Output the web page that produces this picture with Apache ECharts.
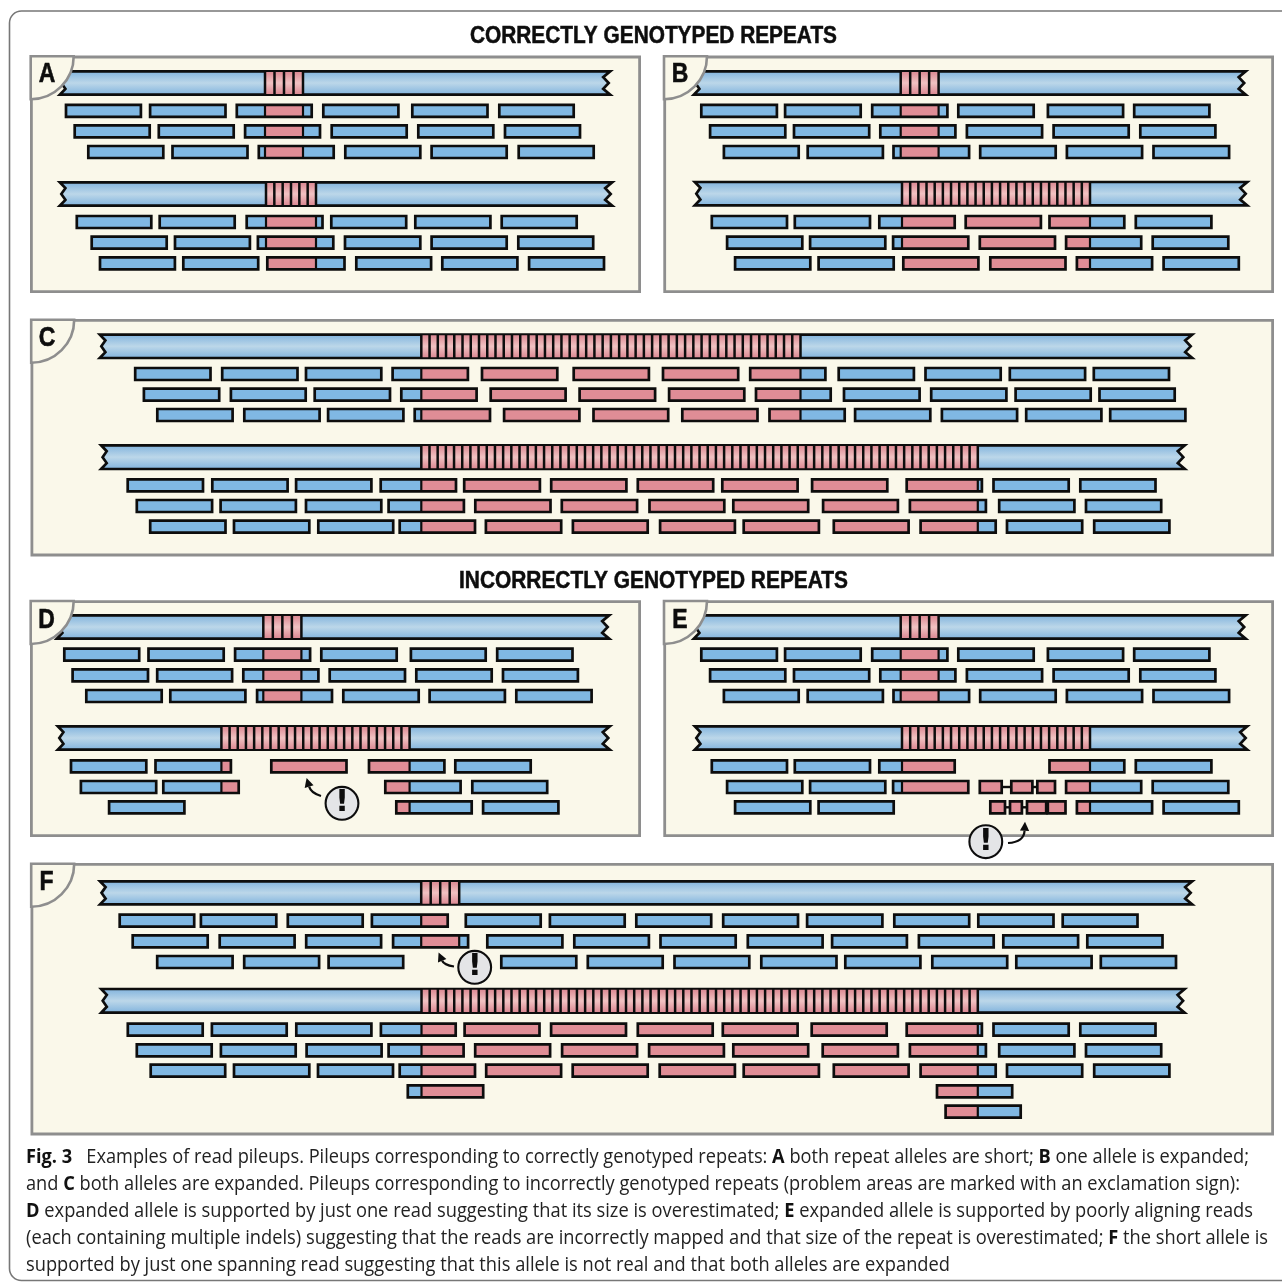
<!DOCTYPE html>
<html><head><meta charset="utf-8">
<style>html,body{margin:0;padding:0;background:#fff;overflow:hidden}#c{width:1282px;height:1282px}</style>
<script src="https://cdn.jsdelivr.net/npm/echarts@6/dist/echarts.min.js"></script>
</head><body><div id="c"></div>
<script>
// ---- panels: x0, y0, x1, y1
const panelBoxes=[[30,55.6,641,293],[663.3,55.6,1274,293],[30.5,319,1274,556.4],[30,600.3,641,837],[663.3,600.3,1274,837],[30.5,863,1274,1135.4]];
const panelLabels=['A','B','C','D','E','F'];
const labelCentres=[[47,74],[680,74],[47,338],[46.5,620],[680,620],[46.5,882]];
const sectionTitles=['CORRECTLY GENOTYPED REPEATS','INCORRECTLY GENOTYPED REPEATS'];
const titleSpans=[[470,837,37],[459,848,582]];

// ---- pileups: reference [x0,x1,y0,y1], repeat [x0,x1,units], row tops, reads per row [x0,x1,x0,x1,...]
const A1_ref=[59,611,70,96], A1_repeat=[265,303,4], A1_y=[103.5,124,144.7];
const A1_reads=[[64.7,142.2,148.8,226.8,235.5,313,322,399.7,411,488.8,498,575],
[73.4,151,157.5,235,243.8,321.3,330.4,408,417,494.6,503.7,581.3],
[87,164.6,171.2,248.8,257.5,335,344,421.6,430.3,508,517.4,595]];
const A2_ref=[59,613,181,207], A2_repeat=[266,316,6], A2_y=[214.7,235.3,256];
const A2_reads=[[75.5,152.6,158.4,236,245.4,323.8,330,407.5,414,491.7,500.4,578],
[90.4,168,173.7,251.2,256.6,334.6,343.7,421.6,430.3,508,517,594.5],
[98.7,176.2,182,259.5,266,345.8,355,432.4,441,518.7,527.8,605.3]];

const B1_ref=[693,1246.5,70,96], B1_repeat=[900.7,938.6,4], B1_y=[103.5,124,144.7];
const B1_reads=[[700,778.2,783.8,862,870.9,948.7,957,1035,1046.6,1124.4,1132.9,1210.7],
[708.8,786.6,792.7,870.5,879,956.7,965.6,1043.4,1052.3,1130,1139,1216.7],
[722.6,800,806.4,884.2,892.2,970.4,978.9,1057,1065.6,1143.4,1152.2,1230.4]];
const B2_ref=[694,1248,180.7,206.7], B2_repeat=[902,1090,23], B2_y=[214.7,235.3,256];
const B2_reads=[[710.5,788.3,793.5,871.3,878,956,964.4,1042.2,1048.2,1125.6,1134.5,1212.7],
[725.8,803.6,808.8,886.6,891.8,969.6,978.5,1056.3,1064.8,1142.5,1151.4,1229.6],
[733.8,811.6,817.3,895,902,979.7,989,1066.8,1075.6,1153.4,1162.3,1240.1]];

const C1_ref=[99,1193,333.3,359.3], C1_repeat=[421.3,800.5,46], C1_y=[366.7,387.3,407.7];
const C1_reads=[[133.9,211.8,220.9,298.8,304.7,382.6,391.3,469.2,480.7,558.6,572.4,650.2,661.7,739.5,748.9,826.7,837.4,915.2,924.2,1002,1008.5,1086.4,1092.5,1170.3],
[142.6,220.5,229.6,307,313.4,391.3,400,477.9,489.4,566.9,578.3,656.4,667.8,745.6,754.7,832,842.7,920.9,929.9,1007.7,1014.3,1092,1098.2,1176],
[156,233.9,243,320.9,326.8,404.7,413.4,491.3,502.8,580.7,592.2,669.5,681,758.8,768.2,846,853.8,931.6,940.6,1018.4,1024.9,1102.7,1108.9,1186.7]];
const C2_ref=[100.3,1185.6,444,470.3], C2_repeat=[421.3,977.8,68], C2_y=[478,498.7,519.3];
const C2_reads=[[126.4,204.3,211,288.9,294.8,372.7,379.4,457.3,462.9,541.2,549.9,627.7,636.5,714.5,721,798.9,810.8,888.6,905.4,983.2,992.2,1070,1079,1156.8],
[135.5,213.4,219.3,297.2,304.7,382.6,387.3,465.2,474,551.8,560.5,638.4,648.2,725.6,732,809.5,821.8,899.2,908.6,987.2,997.9,1075.7,1084.7,1162.5],
[148.9,226.8,232.7,310.6,317,394.5,398.4,476.3,484.6,562.5,571.6,649,658.8,736.2,742.4,820.2,832.5,909.9,919.3,997,1005.7,1083.5,1092.9,1170.7]];

const D1_ref=[56,610,614,640], D1_repeat=[263.3,301.4,4], D1_y=[647.3,668,688.7];
const D1_reads=[[63,140.5,147.2,225,233.8,311.4,320,398,409.6,487,495.9,573.8],
[71.3,149.3,155.9,233.4,242,319.7,328.4,406.3,415,493,501.7,579.2],
[85,163,169,246.7,255.8,333.3,342,420,428.3,506.2,515,592.9]];
const D2_ref=[57,610.6,725,751], D2_repeat=[221.4,409.6,23], D2_y=[759,779.7,800];
const D2_reads=[[69.7,147.6,154.2,232.2,270,347.8,367.7,445.7,454,532],
[79.6,157.5,162,240,384,461.9,471,548.5],
[107.8,185.7,395,473,481.8,559.7]];

const E1_ref=[693,1246.5,614,640], E1_repeat=[900.7,938.6,4], E1_y=[647.3,668,688.7];
const E1_reads=[[700,778.2,783.8,862,870.9,948.7,957,1035,1046.6,1124.4,1132.9,1210.7],
[708.8,786.6,792.7,870.5,879,956.7,965.6,1043.4,1052.3,1130,1139,1216.7],
[722.6,800,806.4,884.2,892.2,970.4,978.9,1057,1065.6,1143.4,1152.2,1230.4]];
const E2_ref=[694,1248,725,751], E2_repeat=[902,1090,23], E2_y=[759,779.7,800];
const E2_reads=[[710.5,788.3,793.5,871.3,878,956,1048.2,1125.6,1134.5,1212.7],
[725.8,803.6,808.8,886.6,891.8,969.6,978.5,1003,1010,1033.7,1036,1056.3,1064.8,1142.5,1151.4,1229.6],
[733.8,811.6,817.3,895,989,1006.3,1008.7,1023.2,1025.7,1047.5,1046.5,1066.8,1075.6,1153.4,1162.3,1240.1]];
// fragment links of the poorly aligned reads: x0, x1, row top
const E2_links=[[1002,1011,779.7],[1033,1037,779.7],[1005.5,1009.5,800],[1022.5,1026.5,800]];

const F1_ref=[99.2,1193,880,905.7], F1_repeat=[421.2,459.2,4], F1_y=[913.3,934,954.7];
const F1_reads=[[118.4,195.5,199.6,277.6,286.5,364,370.6,449,464.5,542,548.6,626,635,712.5,721.9,799.3,805.8,883.7,893,970.5,977,1054.8,1061.4,1138.8],
[131.4,209,218.4,295.9,304.9,382.4,391.8,469.4,486,563.7,573,650.2,659.2,737,746.5,823.9,830.8,908.2,917.6,995,1002,1079.4,1086,1163.8],
[155.9,233.9,242.9,320.4,327.3,404.5,500,577.6,586.5,664,673.2,750.6,760,837.8,844,921.7,931,1008.5,1015,1092.9,1099.5,1177.3]];
const F2_ref=[100.4,1185.4,987.7,1014], F2_repeat=[421.5,977.8,68], F2_y=[1022.3,1043,1063.3,1084,1104.3];
const F2_reads=[[126.5,204,210.6,288,295,372.7,379.6,457,463.3,540.8,549.8,627.3,636.5,714,721.5,798.9,810.4,888,905.4,983.2,992.2,1070,1079,1156.8],
[135.5,213,219.6,297,305.3,382.9,387.3,464.9,473.9,551.4,560.8,638.4,647.8,725.2,732,809.5,821.4,899.2,908.6,987.2,997.9,1075.7,1084.7,1162.5],
[149.4,226.5,232.7,310.6,316.7,394.3,398.4,476.3,484.9,562.4,571.4,649,658.4,736.2,742.4,820.2,832.5,909.9,919.3,997,1005.7,1083.5,1092.9,1170.7],
[406.5,484.5,935.7,1013.5],
[944.3,1022]];

// ---- exclamation markers: centre; arrow start, control, tip
const alertCentres=[[342,803.3],[985.8,841.7],[474.7,967.3]];
const alertArrows=[[321,796,311,793,306.6,778],[1008,843,1024,842,1025,821.7],[454,966.5,444,965,438.6,952.5]];

// ---- caption
const captionLines=[
'{b|Fig. 3}   Examples of read pileups. Pileups corresponding to correctly genotyped repeats: {b|A} both repeat alleles are short; {b|B} one allele is expanded;',
'and {b|C} both alleles are expanded. Pileups corresponding to incorrectly genotyped repeats (problem areas are marked with an exclamation sign):',
'{b|D} expanded allele is supported by just one read suggesting that its size is overestimated; {b|E} expanded allele is supported by poorly aligning reads',
'(each containing multiple indels) suggesting that the reads are incorrectly mapped and that size of the repeat is overestimated; {b|F} the short allele is',
'supported by just one spanning read suggesting that this allele is not real and that both alleles are expanded'];
const captionSpans=[[26,1249,1157.5],[26,1240,1184.5],[26,1253,1211.5],[26,1268,1238.5],[26,950,1265]];

// ---- styling
const INK='#0d0d0d', BLUE='#80b8e3', RED='#e08d96', CREAM='#faf8ea', GREY='#8e8e8e', SW=2.7, READ_H=14.6;
const HEAD='"Liberation Sans",sans-serif';
const CAP='"Open Sans","Noto Sans",sans-serif', CAP_SIZE=20;

const pileups=[
[A1_ref,A1_repeat,A1_y,A1_reads],[A2_ref,A2_repeat,A2_y,A2_reads],
[B1_ref,B1_repeat,B1_y,B1_reads],[B2_ref,B2_repeat,B2_y,B2_reads],
[C1_ref,C1_repeat,C1_y,C1_reads],[C2_ref,C2_repeat,C2_y,C2_reads],
[D1_ref,D1_repeat,D1_y,D1_reads],[D2_ref,D2_repeat,D2_y,D2_reads],
[E1_ref,E1_repeat,E1_y,E1_reads],[E2_ref,E2_repeat,E2_y,E2_reads],
[F1_ref,F1_repeat,F1_y,F1_reads],[F2_ref,F2_repeat,F2_y,F2_reads]];

const refData=pileups.map(p=>[p[0][0],p[0][2],p[0][1],p[0][3]]);
const repeatData=pileups.map(p=>[p[1][0],p[0][2],p[1][1],p[0][3],p[1][2]]);
const readData=[];
pileups.forEach(p=>{p[3].forEach((row,r)=>{for(let i=0;i<row.length;i+=2)readData.push([row[i],p[2][r],row[i+1],p[2][r]+READ_H,p[1][0],p[1][1]]);});});
const linkData=E2_links.map(l=>[l[0],l[2]+READ_H/2,l[1],l[2]+READ_H/2]);

const G=echarts.graphic;
const vGrad=(a,b)=>new G.LinearGradient(0,0,0,1,[{offset:0,color:a},{offset:.5,color:b},{offset:1,color:a}]);
const rectEl=(x0,y0,x1,y1,style,extra)=>Object.assign({type:'rect',shape:Object.assign({x:x0,y:y0,width:x1-x0,height:y1-y0},extra||{}),style});
const lineEl=(x0,y0,x1,y1,w,c)=>({type:'line',shape:{x1:x0,y1:y0,x2:x1,y2:y1},style:{stroke:c||INK,lineWidth:w||SW,fill:null}});
const corners=(api)=>{const a=api.coord([api.value(0),api.value(1)]),b=api.coord([api.value(2),api.value(3)]);return [a[0],a[1],b[0],b[1]];};

function renderPanel(p,api){const [x0,y0,x1,y1]=corners(api);
 return rectEl(x0+1.4,y0+1.4,x1-1.4,y1-1.4,{fill:CREAM,stroke:GREY,lineWidth:2.8});}
function renderRef(p,api){const [x0,y0,x1,y1]=corners(api);
 const t=y0+1.3,b=y1-1.3,h=b-t,L=x0+.8,R=x1-.8,n=7;
 const pts=[[L,t],[R,t],[R-n,t+h*.25],[R-1.5,t+h*.5],[R-n,t+h*.75],[R,b],[L,b],[L+n*.8,t+h*.75],[L+1.5,t+h*.5],[L+n*.8,t+h*.25]];
 return {type:'polygon',shape:{points:pts},style:{fill:vGrad('#7cb0dc','#bcd7e9'),stroke:INK,lineWidth:SW,lineJoin:'miter'}};}
function renderRepeat(p,api){const [x0,y0,x1,y1]=corners(api),u=api.value(4),children=[];
 children.push(rectEl(x0,y0+2,x1,y1-2,{fill:vGrad('#dc8a94','#f1c2c2')}));
 for(let i=0;i<=u;i++){const x=x0+(x1-x0)*i/u;children.push(lineEl(x,y0+1,x,y1-1,2.5));}
 return {type:'group',children};}
function renderRead(p,api){const [x0,y0,x1,y1]=corners(api),a=api.coord([api.value(4),y0])[0],b=api.coord([api.value(5),y0])[0];
 const l=x0+1.3,r=x1-1.3,t=y0+1.3,d=y1-1.3,children=[rectEl(l,t,r,d,{fill:BLUE})];
 const rl=Math.max(l,a),rr=Math.min(r,b);
 if(rr>rl)children.push(rectEl(rl,t,rr,d,{fill:RED}));
 if(a>l&&a<r)children.push(lineEl(a,t,a,d,2.2));
 if(b>l&&b<r)children.push(lineEl(b,t,b,d,2.2));
 children.push(rectEl(l,t,r,d,{fill:null,stroke:INK,lineWidth:SW}));
 return {type:'group',children};}
function renderLink(p,api){const [x0,y0,x1,y1]=corners(api);return lineEl(x0,y0,x1,y1,2.4);}
function renderCorner(p,api){const c=api.coord([api.value(0),api.value(1)]),r=api.size([43,0])[0];
 return {type:'sector',shape:{cx:c[0]+.7,cy:c[1]+.7,r0:0,r,startAngle:0,endAngle:Math.PI/2,clockwise:true},style:{fill:CREAM,stroke:GREY,lineWidth:2.6}};}
function renderLabel(p,api){const c=api.coord([api.value(0),api.value(1)]);
 return {type:'text',x:c[0],y:c[1],scaleX:.82,style:{text:panelLabels[p.dataIndex],fontFamily:HEAD,fontWeight:'bold',fontSize:28,fill:INK,align:'center',verticalAlign:'middle',stroke:INK,lineWidth:.6}};}
function renderTitle(p,api){const a=api.coord([api.value(0),api.value(2)]),b=api.coord([api.value(1),api.value(2)]);
 const txt=sectionTitles[p.dataIndex],font='bold 23px '+HEAD,w=measure(txt,font);
 return {type:'text',x:a[0],y:a[1],scaleX:(b[0]-a[0])/w,style:{text:txt,font,fill:INK,align:'left',verticalAlign:'middle',stroke:INK,lineWidth:.5}};}
function renderAlert(p,api){const c=api.coord([api.value(0),api.value(1)]),k=p.dataIndex,ar=alertArrows[k];
 const s=api.coord([ar[0],ar[1]]),m=api.coord([ar[2],ar[3]]),t=api.coord([ar[4],ar[5]]);
 const dx=t[0]-m[0],dy=t[1]-m[1],len=Math.hypot(dx,dy),ux=dx/len,uy=dy/len,bx=t[0]-ux*9,by=t[1]-uy*9;
 return {type:'group',children:[
  {type:'bezierCurve',shape:{x1:s[0],y1:s[1],cpx1:m[0],cpy1:m[1],x2:bx,y2:by},style:{stroke:INK,lineWidth:2.2,fill:null}},
  {type:'polygon',shape:{points:[[t[0],t[1]],[bx-uy*4.6,by+ux*4.6],[bx+uy*4.6,by-ux*4.6]]},style:{fill:INK}},
  {type:'circle',shape:{cx:c[0],cy:c[1],r:16.4},style:{fill:'#e4e5e7',stroke:INK,lineWidth:2.1}},
  {type:'text',x:c[0],y:c[1],style:{text:'!',fontFamily:'"DejaVu Sans"',fontWeight:'bold',fontSize:31,fill:INK,align:'center',verticalAlign:'middle'}}
 ]};}

const mctx=document.createElement('canvas').getContext('2d');
function measure(t,font){mctx.font=font;return mctx.measureText(t).width;}
const capFont=b=>(b?'bold ':'')+CAP_SIZE+'px '+CAP;
function captionWidth(s){let w=0;s.split(/(\{b\|[^}]*\})/).forEach(seg=>{const m=seg.match(/^\{b\|(.*)\}$/);w+=m?measure(m[1],capFont(true)):measure(seg,capFont(false));});return w;}
function renderCaption(p,api){const sp=[api.value(0),api.value(1),api.value(2)],a=api.coord([sp[0],sp[2]]),b=api.coord([sp[1],sp[2]]);
 const s=captionLines[p.dataIndex];
 return {type:'text',x:a[0],y:a[1],scaleX:(b[0]-a[0])/captionWidth(s),style:{text:s,font:capFont(false),fill:'#222',align:'left',verticalAlign:'middle',
  rich:{b:{font:capFont(true),fill:'#111'}}}};}
function renderCard(p,api){const [x0,y0,x1,y1]=corners(api);
 return rectEl(x0,y0,x1,y1,{fill:'#fff',stroke:'#777',lineWidth:1.6},{r:12});}

const layer=(z,data,renderItem)=>({type:'custom',coordinateSystem:'cartesian2d',z,data,renderItem,silent:true,clip:false,animation:false,encode:{x:0,y:1}});

const chart=echarts.init(document.getElementById('c'),null,{renderer:'canvas',width:1282,height:1282});
chart.setOption({
 animation:false,backgroundColor:'#fff',
 grid:{left:0,right:0,top:0,bottom:0},
 xAxis:{type:'value',min:0,max:1282,show:false},
 yAxis:{type:'value',min:0,max:1282,inverse:true,show:false},
 series:[
  layer(1,[[9.5,11,1300,1280.5]],renderCard),
  layer(2,panelBoxes,renderPanel),
  layer(3,refData,renderRef),
  layer(4,repeatData,renderRepeat),
  layer(5,linkData,renderLink),
  layer(6,readData,renderRead),
  layer(7,panelBoxes.map(b=>[b[0],b[1]]),renderCorner),
  layer(8,labelCentres,renderLabel),
  layer(9,alertCentres,renderAlert),
  layer(10,titleSpans,renderTitle),
  layer(10,captionSpans,renderCaption)
 ]
});
</script></body></html>
